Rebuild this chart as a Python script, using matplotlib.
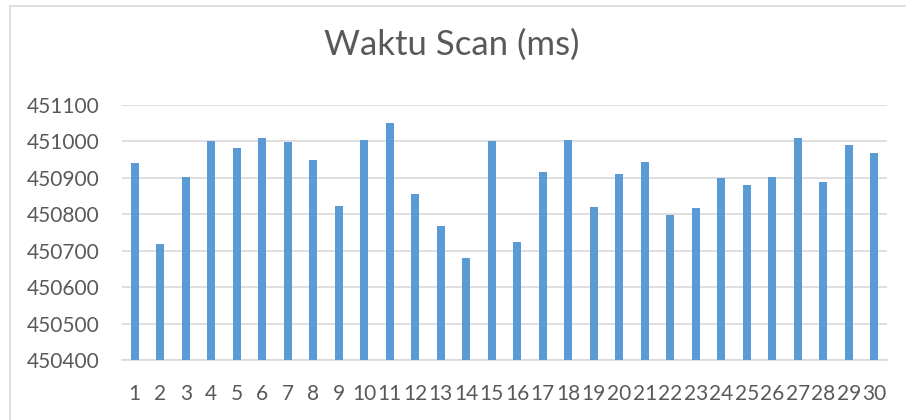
import matplotlib
matplotlib.use("Agg")
import matplotlib.pyplot as plt
from matplotlib.patches import Rectangle

# scan time per trial (ms)
trials = [str(i) for i in range(1, 31)]
scan_ms = [450939, 450718, 450903, 451001, 450981, 451009, 450999, 450949, 450823, 451003,
           451049, 450856, 450769, 450679, 451000, 450723, 450915, 451003, 450820, 450911,
           450943, 450798, 450817, 450899, 450880, 450901, 451009, 450889, 450989, 450969]
yticks = [450400, 450500, 450600, 450700, 450800, 450900, 451000, 451100]

BAR, GRID, TXT = "#5b9bd5", "#d9d9d9", "#595959"
plt.rcParams["font.family"] = ["Lato", "DejaVu Sans"]

fig = plt.figure(figsize=(9.06, 4.2), dpi=100)
ax = fig.add_axes([0.1347, 0.1421, 0.8443, 0.6086])

x = range(len(trials))
ax.bar(x, scan_ms, width=0.31, color=BAR, zorder=3)
ax.set_xlim(-0.5, len(trials) - 0.5)
ax.set_ylim(yticks[0], yticks[-1])
ax.set_yticks(yticks)
ax.set_yticklabels([str(v) for v in yticks])
ax.set_xticks(list(x))
ax.set_xticklabels(trials)

ax.grid(axis="y", color=GRID, lw=1.2, zorder=0)
for s in ["left", "right", "top"]:
    ax.spines[s].set_visible(False)
ax.spines["bottom"].set_color(GRID)
ax.spines["bottom"].set_linewidth(1.2)
ax.tick_params(axis="both", length=0, labelsize=15, colors=TXT)
ax.tick_params(axis="y", pad=16)
ax.tick_params(axis="x", pad=17)

fig.text(0.499, 0.893, "Waktu Scan (ms)", ha="center", va="center",
         fontsize=25, color=TXT)

# chart frame (extends past the image on right/bottom)
fig.patches.append(Rectangle((9.5 / 906, -0.1), 1.2, 1 - 6 / 420 + 0.1,
                             transform=fig.transFigure, fill=False,
                             edgecolor=GRID, lw=1.2))

fig.savefig("out.png", dpi=100)
